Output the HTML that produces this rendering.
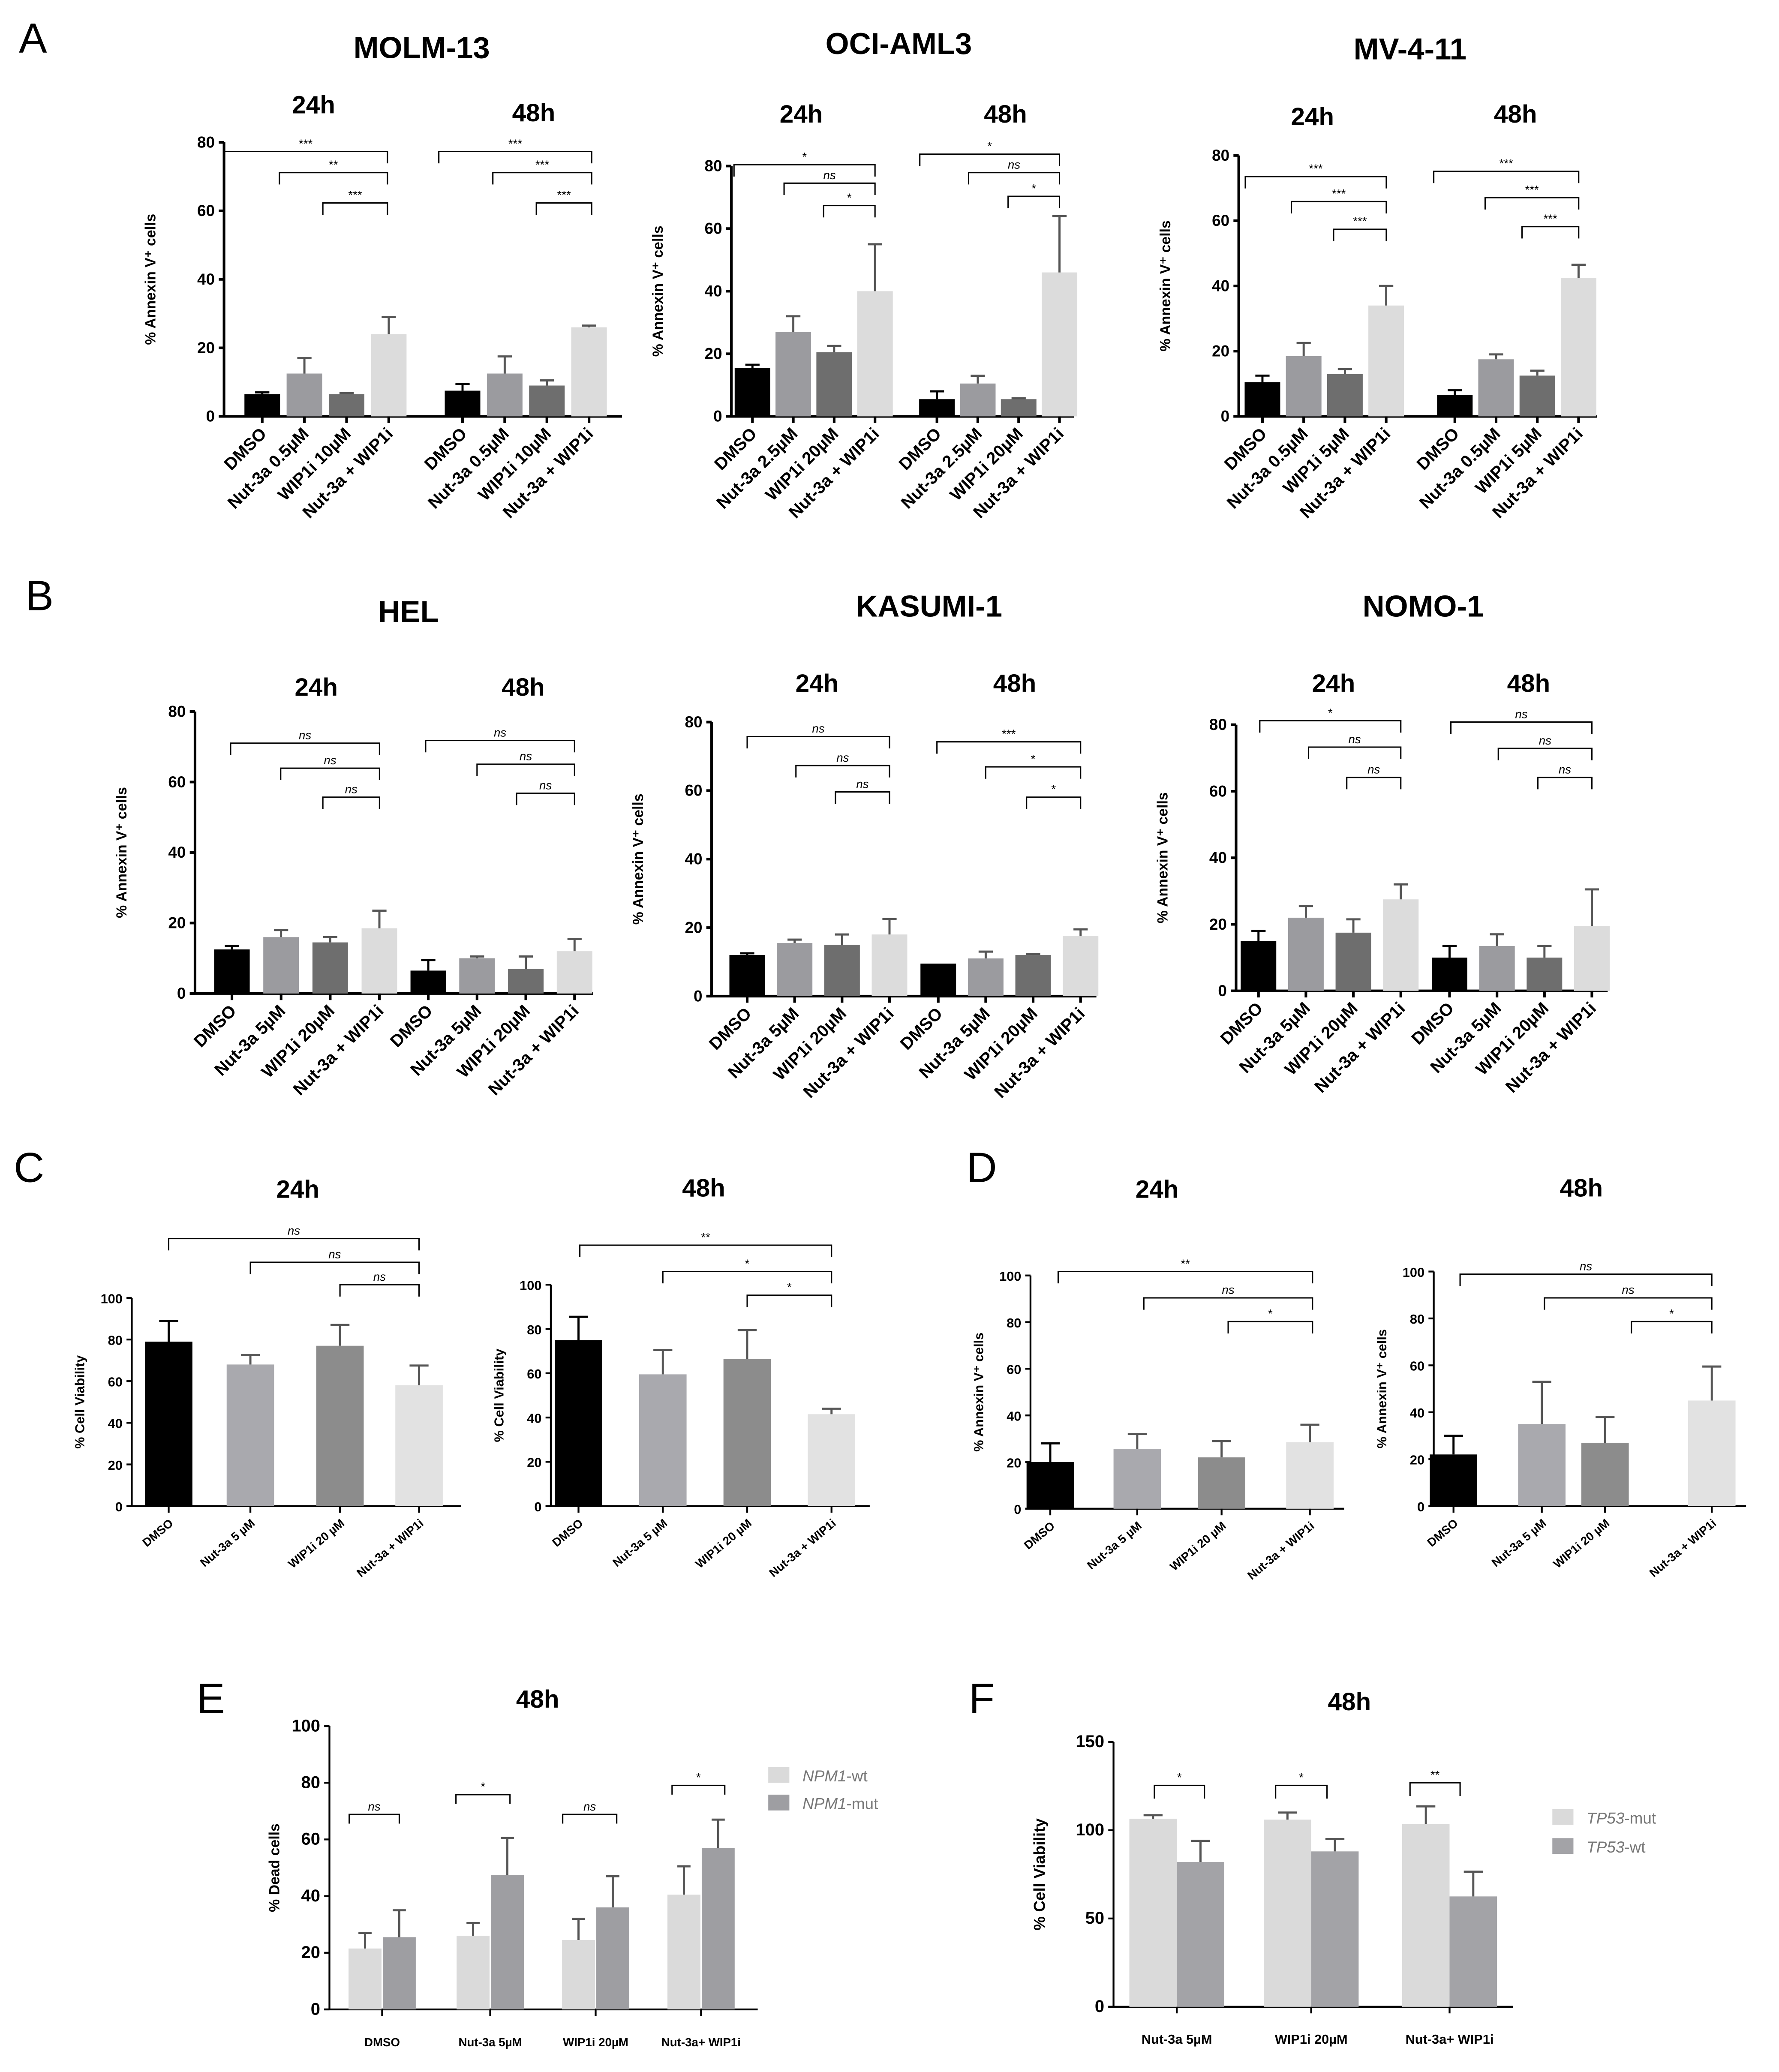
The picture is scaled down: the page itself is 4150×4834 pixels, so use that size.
<!DOCTYPE html>
<html><head><meta charset="utf-8"><style>
html,body{margin:0;padding:0;background:#fff;}
svg{display:block;font-family:"Liberation Sans",Arial,sans-serif;}
</style></head><body>
<svg id="fig" xmlns="http://www.w3.org/2000/svg" width="4150" height="4834" viewBox="0 0 1350 1572.5" preserveAspectRatio="none"></svg>
<script>
// ---- data ----
const molmValues=[6.5,12.5,6.5,24,7.5,12.5,9,26];
const molmErrs=[0.5,4.5,0.3,5,2,5,1.5,0.5];
const ociValues=[15.5,27,20.5,40,5.5,10.5,5.5,46];
const ociErrs=[1,5,2,15,2.5,2.5,0.3,18];
const mvValues=[10.5,18.5,13,34,6.5,17.5,12.5,42.5];
const mvErrs=[2,4,1.5,6,1.5,1.5,1.5,4];
const helValues=[12.5,16,14.5,18.5,6.5,10,7,12];
const helErrs=[1,2,1.5,5,3,0.5,3.5,3.5];
const kasValues=[12,15.5,15,18,9.5,11,12,17.5];
const kasErrs=[0.5,1,3,4.5,0,2,0.3,2];
const nomoValues=[15,22,17.5,27.5,10,13.5,10,19.5];
const nomoErrs=[3,3.5,4,4.5,3.5,3.5,3.5,11];
const c24Values=[79,68,77,58], c24Errs=[10,4.5,10,9.5];
const c48Values=[75,59.5,66.5,41.5], c48Errs=[10.5,11,13,2.5];
const d24Values=[20,25.5,22,28.5], d24Errs=[8,6.5,7,7.5];
const d48Values=[22,35,27,45], d48Errs=[8,18,11,14.5];
const eWtValues=[21.5,26,24.5,40.5], eWtErrs=[5.5,4.5,7.5,10];
const eMutValues=[25.5,47.5,36,57], eMutErrs=[9.5,13,11,10];
const fMutValues=[106.5,106,103.5], fMutErrs=[2,4,10];
const fWtValues=[82,88,62.5], fWtErrs=[12,7,14];
const ticks80=[0,20,40,60,80], ticks100=[0,20,40,60,80,100], ticks150=[0,50,100,150];
const catsA1=["DMSO","Nut-3a 0.5\u00b5M","WIP1i 10\u00b5M","Nut-3a + WIP1i"];
const catsA2=["DMSO","Nut-3a 2.5\u00b5M","WIP1i 20\u00b5M","Nut-3a + WIP1i"];
const catsA3=["DMSO","Nut-3a 0.5\u00b5M","WIP1i 5\u00b5M","Nut-3a + WIP1i"];
const catsB=["DMSO","Nut-3a 5\u00b5M","WIP1i 20\u00b5M","Nut-3a + WIP1i"];
const catsC=["DMSO","Nut-3a 5 \u00b5M","WIP1i 20 \u00b5M","Nut-3a + WIP1i"];
const catsE=["DMSO","Nut-3a 5\u00b5M","WIP1i 20\u00b5M","Nut-3a+ WIP1i"];
const catsF=["Nut-3a 5\u00b5M","WIP1i 20\u00b5M","Nut-3a+ WIP1i"];

const NS="http://www.w3.org/2000/svg";
const svg=document.getElementById('fig');
function mk(tag,attrs,parent,txt){const e=document.createElementNS(NS,tag);for(const k in attrs)e.setAttribute(k,attrs[k]);if(txt!==undefined)e.textContent=txt;(parent||svg).appendChild(e);return e;}
function txt(x,y,s,size,opts,parent){opts=opts||{};const e=mk('text',{x:x,y:y,'font-size':size,'font-weight':opts.w||'bold','text-anchor':opts.a||'middle','font-style':opts.i||'normal',fill:'#000'},parent,s);if(opts.rot!==undefined)e.setAttribute('transform','rotate('+opts.rot+' '+x+' '+y+')');return e;}

const colA=['#000','#9b9b9f','#6e6e6e','#dcdcdc'];
const colC=['#000','#a9a9ae','#8c8c8c','#e2e2e2'];

function panel(cfg){
  const g=mk('g',{},svg);
  
  
  const Y=v=>cfg.y0-(v/cfg.max)*(cfg.y0-cfg.yTop);
  const lw=cfg.lw||2;
  // y axis
  const ax=mk('line',{x1:cfg.ax,y1:cfg.y0,x2:cfg.ax,y2:cfg.yTop,stroke:'#000','stroke-width':lw},g);
  
  const xl=mk('line',{x1:cfg.ax-4,y1:cfg.y0,x2:cfg.xEnd,y2:cfg.y0,stroke:'#000','stroke-width':lw},g);
  
  cfg.ticks.forEach(t=>{
    mk('line',{x1:cfg.ax-4,y1:Y(t),x2:cfg.ax,y2:Y(t),stroke:'#000','stroke-width':lw},g);
    const tl=txt(cfg.ax-7,Y(t)+4,String(t),cfg.tickSize||12,{a:'end'},g);
    
  });
  const yt=txt(cfg.ax-cfg.ytOff,(cfg.y0+cfg.yTop)/2,cfg.ytitle,cfg.ytSize||11,{rot:-90},g);
  
  cfg.values.forEach((v,i)=>{
    const c=cfg.centers[i],w=cfg.bw,col=cfg.colors[i%cfg.colors.length];
    const b=mk('rect',{x:c-w/2,y:Y(v),width:w,height:cfg.y0-Y(v),fill:col},g);
    
    const e=cfg.errs[i];
    const ec=col==='#000'?'#000':'#555';
    if(e>0){
      mk('line',{x1:c,y1:Y(v),x2:c,y2:Y(v+e),stroke:ec,'stroke-width':1.6},g);
      mk('line',{x1:c-w*0.2,y1:Y(v+e),x2:c+w*0.2,y2:Y(v+e),stroke:ec,'stroke-width':1.6},g);
    }
  });
  (cfg.tickX||[]).forEach(x=>mk('line',{x1:x,y1:cfg.y0,x2:x,y2:cfg.y0+5,stroke:'#000','stroke-width':lw},g));
  (cfg.brackets||[]).forEach(b=>{
    const p=mk('path',{d:`M${b[0]},${b[2]+(b[4]||9)} V${b[2]} H${b[1]} V${b[2]+(b[4]||9)}`,fill:'none',stroke:'#000','stroke-width':1},g);
    
    const s=txt((b[0]+b[1])/2,b[2]-3,b[3],b[3]==='ns'?9:9,{w:'normal',i:b[3]==='ns'?'italic':'normal'},g);
    
  });
  (cfg.xlabels||[]).forEach(l=>{
    const t=txt(l[0],l[1],l[2],cfg.xlSize||13,{a:cfg.xlAnchor||'end',rot:cfg.xlRot},g);
    
  });
}
function groupCenters(a,step){return [a,a+step,a+2*step,a+3*step];}
function rotLabels(centers,cats,y0){return centers.map((c,i)=>[c+4,y0+14,cats[i%4]]);}

// titles
function title(x,y,s,size,name){const t=txt(x,y,s,size,{});}
const letters=[[25,40,'A'],[30,463,'B'],[22,897,'C'],[745,897,'D'],[160,1300,'E'],[745,1300,'F']];
letters.forEach(l=>{const t=txt(l[0],l[1],l[2],32,{w:'normal'});});
[[320,44,'MOLM-13'],[682,41,'OCI-AML3'],[1070,45,'MV-4-11'],[310,472,'HEL'],[705,468,'KASUMI-1'],[1080,468,'NOMO-1']].forEach(t=>title(t[0],t[1],t[2],23,'cell-line-title'));
[[238,86,'24h'],[405,92,'48h'],[608,93,'24h'],[763,93,'48h'],[996,95,'24h'],[1150,93,'48h'],[240,528,'24h'],[397,528,'48h'],[620,525,'24h'],[770,525,'48h'],[1012,525,'24h'],[1160,525,'48h'],[226,909,'24h'],[534,908,'48h'],[878,909,'24h'],[1200,908,'48h'],[408,1296,'48h'],[1024,1298,'48h']].forEach(t=>title(t[0],t[1],t[2],19,'time-title'));

// Panel A
const A=[
 {name:'chart-molm13',ax:170,y0:316,yTop:108,xEnd:472,v:molmValues,e:molmErrs,c:groupCenters(199,32).concat(groupCenters(351,32)),cats:catsA1,
  br:[[170,294,115,'***'],[212,294,131,'**'],[245,294,154,'***'],[333,449,115,'***'],[374,449,131,'***'],[407,449,154,'***']]},
 {name:'chart-oci-aml3',ax:555,y0:316,yTop:126,xEnd:815,v:ociValues,e:ociErrs,c:groupCenters(571,31).concat(groupCenters(711,31)),cats:catsA2,
  br:[[557,664,125,'*'],[595,664,139,'ns'],[625,664,156,'*'],[698,804,117,'*'],[735,804,131,'ns'],[765,804,149,'*']]},
 {name:'chart-mv411',ax:940,y0:316,yTop:118,xEnd:1212,v:mvValues,e:mvErrs,c:groupCenters(958,31.3).concat(groupCenters(1104,31.3)),cats:catsA3,
  br:[[945,1052,134,'***'],[980,1052,153,'***'],[1012,1052,174,'***'],[1088,1198,130,'***'],[1127,1198,150,'***'],[1155,1198,172,'***']]},
 {name:'chart-hel',ax:148,y0:754,yTop:540,xEnd:450,v:helValues,e:helErrs,c:groupCenters(176,37.3).concat(groupCenters(325,37)),cats:catsB,
  br:[[175,288,564,'ns'],[213,288,583,'ns'],[245,288,605,'ns'],[323,436,562,'ns'],[362,436,580,'ns'],[392,436,602,'ns']]},
 {name:'chart-kasumi1',ax:540,y0:756,yTop:548,xEnd:832,v:kasValues,e:kasErrs,c:groupCenters(567,36).concat(groupCenters(712,36)),cats:catsB,
  br:[[567,675,559,'ns'],[604,675,581,'ns'],[634,675,601,'ns'],[711,820,563,'***'],[748,820,582,'*'],[779,820,605,'*']]},
 {name:'chart-nomo1',ax:938,y0:752,yTop:550,xEnd:1220,v:nomoValues,e:nomoErrs,c:groupCenters(955,36).concat(groupCenters(1100,36)),cats:catsB,
  br:[[956,1063,547,'*'],[993,1063,567,'ns'],[1022,1063,590,'ns'],[1101,1208,548,'ns'],[1137,1208,568,'ns'],[1167,1208,590,'ns']]}
];
A.forEach(p=>panel({name:p.name,ax:p.ax,y0:p.y0,yTop:p.yTop,max:80,ticks:ticks80,xEnd:p.xEnd,values:p.v,errs:p.e,centers:p.c,bw:27,colors:colA,
  ytitle:'% Annexin V\u207a cells',ytOff:52,brackets:p.br,tickX:p.c,xlabels:rotLabels(p.c,p.cats,p.y0),xlRot:-45,xlSize:13}));

// Panel C / D
const CD=[
 {name:'chart-c-24h',ax:100,y0:1143,yTop:985,xEnd:350,v:c24Values,e:c24Errs,c:[128,190,258,318],yt:'% Cell Viability',br:[[128,318,940,'ns'],[190,318,958,'ns'],[258,318,975,'ns']]},
 {name:'chart-c-48h',ax:418,y0:1143,yTop:975,xEnd:660,v:c48Values,e:c48Errs,c:[439,503,567,631],yt:'% Cell Viability',br:[[440,631,945,'**'],[503,631,965,'*'],[567,631,983,'*']]},
 {name:'chart-d-24h',ax:782,y0:1145,yTop:968,xEnd:1020,v:d24Values,e:d24Errs,c:[797,863,927,994],yt:'% Annexin V\u207a cells',br:[[803,996,965,'**'],[868,996,985,'ns'],[932,996,1003,'*']]},
 {name:'chart-d-48h',ax:1088,y0:1143,yTop:965,xEnd:1325,v:d48Values,e:d48Errs,c:[1103,1170,1218,1299],yt:'% Annexin V\u207a cells',br:[[1108,1299,967,'ns'],[1172,1299,985,'ns'],[1238,1299,1003,'*']]}
];
CD.forEach(p=>panel({name:p.name,ax:p.ax,y0:p.y0,yTop:p.yTop,max:100,ticks:ticks100,xEnd:p.xEnd,values:p.v,errs:p.e,centers:p.c,bw:36,colors:colC,lw:1.4,tickSize:10,
  ytitle:p.yt,ytOff:36,ytSize:10,brackets:p.br,tickX:p.c,xlabels:p.c.map((c,i)=>[c+4,p.y0+14,catsC[i]]),xlRot:-40,xlSize:9}));

// Panel E
const eC=[290,372,452,532];
const eCenters=[],eVals=[],eErr=[];
eC.forEach((c,i)=>{eCenters.push(c-13,c+13);eVals.push(eWtValues[i],eMutValues[i]);eErr.push(eWtErrs[i],eMutErrs[i]);});
panel({name:'chart-e',ax:250,y0:1525,yTop:1310,max:100,ticks:ticks100,xEnd:575,values:eVals,errs:eErr,centers:eCenters,bw:25,colors:['#dadada','#9e9ea2'],lw:1.4,tickSize:13,
  ytitle:'% Dead cells',ytOff:38,ytSize:11,tickX:eC,
  brackets:[[265,303,1377,'ns',7],[346,387,1362,'*',7],[427,468,1377,'ns',7],[510,550,1355,'*',7]],
  xlabels:eC.map((c,i)=>[c,1553,catsE[i]]),xlAnchor:'middle',xlSize:9});
// Panel F
const fC=[893,995,1100];
const fCenters=[],fVals=[],fErr=[];
fC.forEach((c,i)=>{fCenters.push(c-18,c+18);fVals.push(fMutValues[i],fWtValues[i]);fErr.push(fMutErrs[i],fWtErrs[i]);});
panel({name:'chart-f',ax:845,y0:1523,yTop:1322,max:150,ticks:ticks150,xEnd:1148,values:fVals,errs:fErr,centers:fCenters,bw:36,colors:['#dadada','#a3a3a7'],lw:1.4,tickSize:13,
  ytitle:'% Cell Viability',ytOff:52,ytSize:12,tickX:fC,
  brackets:[[876,914,1355,'*',10],[968,1007,1355,'*',10],[1070,1108,1353,'**',10]],
  xlabels:fC.map((c,i)=>[c,1551,catsF[i]]),xlAnchor:'middle',xlSize:10});

// legends
function legend(x,y,col,a,b,name){const g=mk('g',{},svg);
  mk('rect',{x:x,y:y-8,width:16,height:12,fill:col},g);
  const t=mk('text',{x:x+26,y:y+3,'font-size':12,fill:'#777'},g);
  mk('tspan',{'font-style':'italic'},t,a);mk('tspan',{},t,b);}
legend(583,1349,'#dadada','NPM1','-wt','legend-npm1-wt');
legend(583,1370,'#9e9ea2','NPM1','-mut','legend-npm1-mut');
legend(1178,1381,'#dadada','TP53','-mut','legend-tp53-mut');
legend(1178,1403,'#a3a3a7','TP53','-wt','legend-tp53-wt');
</script>
</body></html>
